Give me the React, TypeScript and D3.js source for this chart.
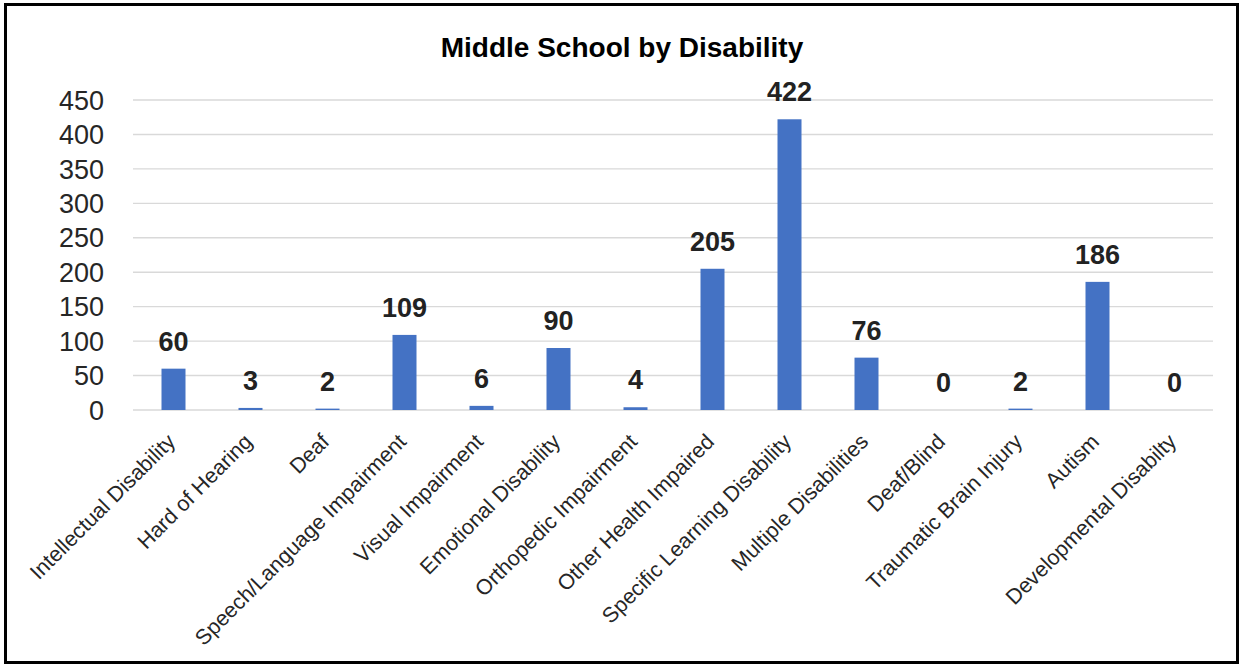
import React from "react";
import * as d3 from "d3";

const categories = [
  "Intellectual Disability",
  "Hard of Hearing",
  "Deaf",
  "Speech/Language Impairment",
  "Visual Impairment",
  "Emotional Disability",
  "Orthopedic Impairment",
  "Other Health Impaired",
  "Specific Learning Disability",
  "Multiple Disabilities",
  "Deaf/Blind",
  "Traumatic Brain Injury",
  "Autism",
  "Developmental Disabilty",
];
const values = [60, 3, 2, 109, 6, 90, 4, 205, 422, 76, 0, 2, 186, 0];
const yTicks = [0, 50, 100, 150, 200, 250, 300, 350, 400, 450];
const title = "Middle School by Disability";

const W = 1241;
const H = 665;
const FONT = "'Liberation Sans', Arial, sans-serif";

export default function App() {
  const x = d3.scaleBand<string>().domain(categories).range([135, 1213]).paddingInner(0.69).paddingOuter(0.345);
  const y = d3.scaleLinear().domain([0, 450]).range([410, 100]);
  const bw = 24;

  return (
    <svg
      width={W}
      height={H}
      style={{ position: "absolute", left: 0, top: 0, display: "block", background: "#fff" }}
    >
      <rect x={5.5} y={4.5} width={1232} height={658} fill="#fff" stroke="#000" strokeWidth={3} />
      <text x={622} y={57} textAnchor="middle" fontFamily={FONT} fontSize={28} fontWeight="bold" fill="#000">
        {title}
      </text>
      {yTicks.map((t) => (
        <g key={t}>
          <line x1={133} x2={1213} y1={y(t)} y2={y(t)} stroke="#d9d9d9" strokeWidth={1.4} />
          <text x={104} y={y(t)} dy="0.36em" textAnchor="end" fontFamily={FONT} fontSize={27} fill="#262626">
            {t}
          </text>
        </g>
      ))}
      {categories.map((c, i) => {
        const cx = (x(c) as number) + x.bandwidth() / 2;
        const v = values[i];
        return (
          <g key={c}>
            <rect x={cx - bw / 2} y={y(v)} width={bw} height={y(0) - y(v)} fill="#4472C4" />
            <text x={cx} y={y(v) - 18} textAnchor="middle" fontFamily={FONT} fontSize={27} fontWeight="bold" fill="#222">
              {v}
            </text>
            <text
              transform={`translate(${cx + 3},${443}) rotate(-45)`}
              textAnchor="end"
              fontFamily={FONT}
              fontSize={21.5}
              fill="#262626"
            >
              {c}
            </text>
          </g>
        );
      })}
    </svg>
  );
}
